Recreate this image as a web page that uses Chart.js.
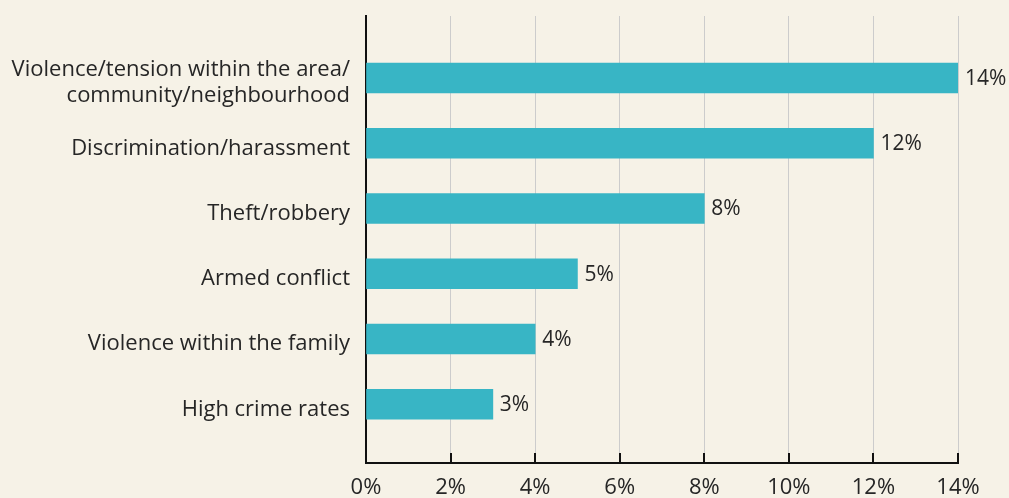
<!DOCTYPE html>
<html><head><meta charset="utf-8">
<script src="https://cdn.jsdelivr.net/npm/chart.js@4"></script>
<style>html,body{margin:0;padding:0;background:#f6f2e7;}#wrap{width:1009px;height:498px;}</style>
</head><body><div id="wrap"><canvas id="c" width="1009" height="498"></canvas></div>
<script>
const categories = [
  ["Violence/tension within the area/", "community/neighbourhood"],
  "Discrimination/harassment",
  "Theft/robbery",
  "Armed conflict",
  "Violence within the family",
  "High crime rates"
];
const values = [14, 12, 8, 5, 4, 3];
const xTicks = [0, 2, 4, 6, 8, 10, 12, 14];

const FONT = "'Open Sans', sans-serif";
const TXT = '#262626';
const Y_MIN = -0.95, Y_MAX = 5.9;

const tickMarks = {
  id: 'tickMarks',
  afterDraw(chart) {
    const ctx = chart.ctx, xs = chart.scales.x, b = chart.chartArea.bottom;
    ctx.save();
    ctx.strokeStyle = '#111'; ctx.lineWidth = 2;
    xTicks.forEach(v => {
      const px = Math.round(xs.getPixelForValue(v));
      ctx.beginPath(); ctx.moveTo(px, b - 10); ctx.lineTo(px, b); ctx.stroke();
    });
    ctx.restore();
  }
};
const valueLabels = {
  id: 'valueLabels',
  afterDatasetsDraw(chart) {
    const ctx = chart.ctx, meta = chart.getDatasetMeta(0);
    ctx.save();
    ctx.font = "21px " + FONT; ctx.fillStyle = TXT;
    ctx.textAlign = 'left'; ctx.textBaseline = 'middle';
    meta.data.forEach((el, i) => {
      ctx.fillText(values[i] + '%', el.x + 7, el.y + 1);
    });
    ctx.restore();
  }
};

new Chart(document.getElementById('c'), {
  type: 'bar',
  data: {
    datasets: [{
      data: values.map((v, i) => ({x: v, y: i})),
      backgroundColor: '#38b5c5',
      barThickness: 30,
      borderWidth: 0
    }]
  },
  options: {
    indexAxis: 'y',
    responsive: false,
    animation: false,
    layout: {padding: {top: 16, right: 51, left: 0, bottom: 0}},
    plugins: {legend: {display: false}, tooltip: {enabled: false}},
    scales: {
      x: {
        type: 'linear', min: 0, max: 14, offset: false,
        afterBuildTicks: s => { s.ticks = xTicks.map(v => ({value: v})); },
        afterFit: s => { s.height = 35; },
        grid: {color: '#cccccc', lineWidth: 1, drawTicks: false, offset: false},
        border: {color: '#111', width: 2},
        ticks: {color: TXT, font: {family: FONT, size: 22}, padding: 12, callback: v => v + '%', maxRotation: 0}
      },
      y: {
        type: 'linear', reverse: true, min: Y_MIN, max: Y_MAX, bounds: 'data', offset: false,
        afterDataLimits: s => { s.min = Y_MIN; s.max = Y_MAX; },
        afterBuildTicks: s => { s.ticks = categories.map((_, i) => ({value: i})); s.min = Y_MIN; s.max = Y_MAX; },
        afterFit: s => { s.width = 366; s.paddingTop = 0; s.paddingBottom = 0; },
        grid: {display: false, drawTicks: false, offset: false},
        border: {color: '#111', width: 2},
        ticks: {color: TXT, font: {family: FONT, size: 22, lineHeight: 1.2}, padding: 16, labelOffset: 5,
                autoSkip: false, callback: v => categories[v]}
      }
    }
  },
  plugins: [tickMarks, valueLabels]
});
</script></body></html>
